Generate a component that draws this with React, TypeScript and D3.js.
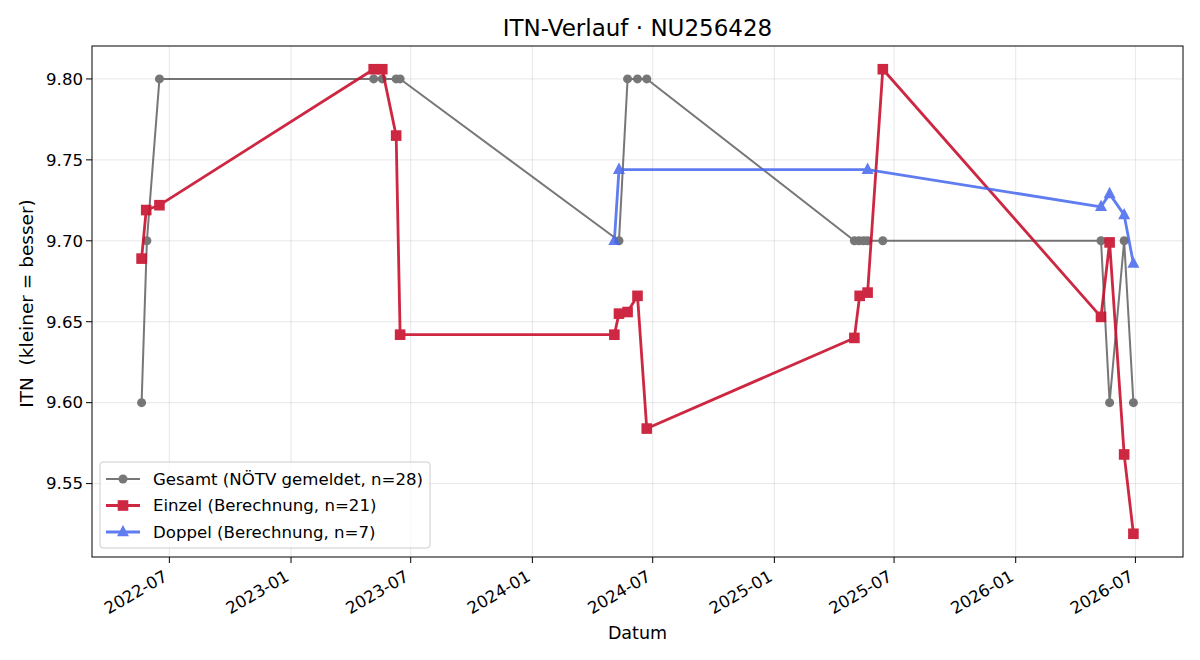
import React from 'react';
import * as d3 from 'd3';

// Gesamt (NÖTV gemeldet)
const gesamtDates = ['2022-05-20','2022-05-28','2022-06-16','2023-05-06','2023-05-19','2023-06-09','2023-06-15',
  '2024-05-11','2024-05-24','2024-06-08','2024-06-22','2025-05-02','2025-05-09','2025-05-16','2025-05-22',
  '2025-06-14','2026-05-10','2026-05-23','2026-06-14','2026-06-28'];
const gesamtValues = [9.60,9.70,9.80,9.80,9.80,9.80,9.80,9.70,9.80,9.80,9.80,9.70,9.70,9.70,9.70,9.70,9.70,9.60,9.70,9.60];

// Einzel (Berechnung)
const einzelDates = ['2022-05-20','2022-05-27','2022-06-16','2023-05-06','2023-05-19','2023-06-09','2023-06-15',
  '2024-05-04','2024-05-11','2024-05-24','2024-06-08','2024-06-22','2025-05-02','2025-05-10','2025-05-22',
  '2025-06-14','2026-05-10','2026-05-23','2026-06-14','2026-06-28'];
const einzelValues = [9.689,9.719,9.722,9.806,9.806,9.765,9.642,9.642,9.655,9.656,9.666,9.584,9.640,9.666,9.668,
  9.806,9.653,9.699,9.568,9.519];

// Doppel (Berechnung)
const doppelDates = ['2024-05-04','2024-05-11','2025-05-22','2026-05-10','2026-05-23','2026-06-14','2026-06-28'];
const doppelValues = [9.700,9.744,9.744,9.721,9.729,9.716,9.686];

const yTicks = [9.55, 9.60, 9.65, 9.70, 9.75, 9.80];
const legendLabels = ['Gesamt (NÖTV gemeldet, n=28)', 'Einzel (Berechnung, n=21)', 'Doppel (Berechnung, n=7)'];

const W = 1200, H = 660;
const M = { left: 92, right: 1183, top: 46, bottom: 557 };
const FONT = 'DejaVu Sans, sans-serif';
const FS = 16.6;

const parse = d3.timeParse('%Y-%m-%d');
type Pt = { d: Date; v: number };
const zip = (ds: string[], vs: number[]): Pt[] => ds.map((s, i) => ({ d: parse(s) as Date, v: vs[i] }));

const gesamt = zip(gesamtDates, gesamtValues);
const einzel = zip(einzelDates, einzelValues);
const doppel = zip(doppelDates, doppelValues);
const all = [...gesamt, ...einzel, ...doppel];

const pad = (lo: number, hi: number) => { const m = (hi - lo) * 0.05; return [lo - m, hi + m]; };
const [t0, t1] = pad(d3.min(all, p => +p.d)!, d3.max(all, p => +p.d)!);
const [v0, v1] = pad(d3.min(all, p => p.v)!, d3.max(all, p => p.v)!);

const x = d3.scaleTime().domain([new Date(t0), new Date(t1)]).range([M.left, M.right]);
const y = d3.scaleLinear().domain([v0, v1]).range([M.bottom, M.top]);
const xTicks = d3.timeMonth.every(6)!.range(new Date(2022, 6, 1), new Date(2026, 7, 1));
const fmt = d3.timeFormat('%Y-%m');

const line = d3.line<Pt>().x(p => x(p.d)).y(p => y(p.v));

const series = [
  { data: gesamt, color: '#444444', alpha: 0.72, width: 2, marker: 'circle' },
  { data: einzel, color: '#c8102e', alpha: 0.9, width: 2.8, marker: 'square' },
  { data: doppel, color: '#4466ee', alpha: 0.85, width: 2.8, marker: 'triangle' },
];

function Marker({ kind, cx, cy, color }: { kind: string; cx: number; cy: number; color: string }) {
  if (kind === 'circle') return <circle cx={cx} cy={cy} r={4.5} fill={color} />;
  if (kind === 'square') return <rect x={cx - 5.3} y={cy - 5.3} width={10.6} height={10.6} fill={color} />;
  return <path d={`M${cx},${cy - 7}L${cx + 6},${cy + 4.3}L${cx - 6},${cy + 4.3}Z`} fill={color} />;
}

export default function App() {
  return (
    <svg width={W} height={H} style={{ position: 'absolute', left: 0, top: 0, background: '#fff' }} fontFamily={FONT}>
      <rect width={W} height={H} fill="#fff" />
      {/* grid */}
      <g stroke="#b0b0b0" strokeOpacity={0.35} strokeWidth={0.9}>
        {xTicks.map((t, i) => <line key={i} x1={x(t)} x2={x(t)} y1={M.top} y2={M.bottom} />)}
        {yTicks.map((t, i) => <line key={i} x1={M.left} x2={M.right} y1={y(t)} y2={y(t)} />)}
      </g>
      {/* series */}
      {series.map((s, i) => (
        <g key={i} opacity={s.alpha}>
          <path d={line(s.data)!} fill="none" stroke={s.color} strokeWidth={s.width} strokeLinejoin="round" />
          {s.data.map((p, j) => <Marker key={j} kind={s.marker} cx={x(p.d)} cy={y(p.v)} color={s.color} />)}
        </g>
      ))}
      {/* axes frame */}
      <rect x={M.left} y={M.top} width={M.right - M.left} height={M.bottom - M.top} fill="none" stroke="#000" strokeWidth={1} />
      {/* y ticks */}
      {yTicks.map((t, i) => (
        <g key={i}>
          <line x1={M.left - 6} x2={M.left} y1={y(t)} y2={y(t)} stroke="#000" />
          <text x={M.left - 9} y={y(t)} dy="0.35em" textAnchor="end" fontSize={FS}>{t.toFixed(2)}</text>
        </g>
      ))}
      {/* x ticks */}
      {xTicks.map((t, i) => (
        <g key={i}>
          <line x1={x(t)} x2={x(t)} y1={M.bottom} y2={M.bottom + 6} stroke="#000" />
          <text transform={`translate(${x(t) - 7},${M.bottom + 12}) rotate(-30)`} dy="0.75em" textAnchor="end" fontSize={FS}>{fmt(t)}</text>
        </g>
      ))}
      {/* labels */}
      <text x={(M.left + M.right) / 2} y={36} textAnchor="middle" fontSize={23}>ITN-Verlauf · NU256428</text>
      <text x={(M.left + M.right) / 2} y={639} textAnchor="middle" fontSize={17.5}>Datum</text>
      <text transform={`translate(33,${(M.top + M.bottom) / 2 + 2}) rotate(-90)`} textAnchor="middle" fontSize={18.5}
        style={{ whiteSpace: 'pre' }}>ITN  (kleiner = besser)</text>
      {/* legend */}
      <g>
        <rect x={100} y={462} width={330} height={86} rx={3} fill="#fff" fillOpacity={0.8} stroke="#cccccc" />
        {series.map((s, i) => {
          const ly = 479 + i * 26.5;
          return (
            <g key={i}>
              <g opacity={s.alpha}>
                <line x1={106} x2={140} y1={ly} y2={ly} stroke={s.color} strokeWidth={s.width} />
                <Marker kind={s.marker} cx={123} cy={ly} color={s.color} />
              </g>
              <text x={153} y={ly} dy="0.35em" fontSize={FS}>{legendLabels[i]}</text>
            </g>
          );
        })}
      </g>
    </svg>
  );
}
